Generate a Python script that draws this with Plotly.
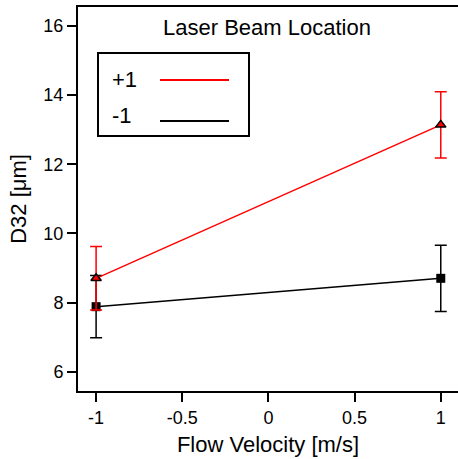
import plotly.graph_objects as go

x_vals = [-1, 1]
series_names = ["+1", "-1"]
series_colors = ["#ff0000", "#000000"]
plus1_y = [8.70, 13.14]
plus1_err = [0.92, 0.96]
minus1_y = [7.88, 8.70]
minus1_err = [0.90, 0.96]
x_ticks = [-1, -0.5, 0, 0.5, 1]
x_ticklabels = ["-1", "-0.5", "0", "0.5", "1"]
y_ticks = [6, 8, 10, 12, 14, 16]

FONT = "Liberation Sans, Arial, sans-serif"

fig = go.Figure()
fig.add_trace(go.Scatter(
    x=x_vals, y=minus1_y, mode="lines+markers", name=series_names[1],
    line=dict(color=series_colors[1], width=1.5),
    marker=dict(symbol="square", size=9, color=series_colors[1]),
    error_y=dict(type="data", array=minus1_err, color=series_colors[1], thickness=1.5, width=6),
    showlegend=False))
fig.add_trace(go.Scatter(
    x=x_vals, y=plus1_y, mode="lines+markers", name=series_names[0],
    line=dict(color=series_colors[0], width=1.5),
    marker=dict(symbol="triangle-up", size=9, color=series_colors[0],
                line=dict(color="black", width=1.5)),
    error_y=dict(type="data", array=plus1_err, color=series_colors[0], thickness=1.5, width=6),
    showlegend=False))

# custom legend (text left, line right) in paper coordinates
# plot area: x 78..458 px (380 wide), y 7..391 px (384 tall)
def px(xp):
    return (xp - 78) / 380.0
def py(yp):
    return (391 - yp) / 384.0

fig.add_shape(type="rect", xref="paper", yref="paper",
              x0=px(98), x1=px(249), y0=py(136), y1=py(53),
              line=dict(color="black", width=2), fillcolor="rgba(0,0,0,0)")
text_y = [80, 115]
line_y = [80, 121]
for i, (nm, col) in enumerate(zip(series_names, series_colors)):
    fig.add_annotation(xref="paper", yref="paper", x=px(110), y=py(text_y[i]), text=nm,
                       showarrow=False, xanchor="left", yanchor="middle",
                       font=dict(family=FONT, size=22, color="black"))
    fig.add_shape(type="line", xref="paper", yref="paper",
                  x0=px(160), x1=px(229), y0=py(line_y[i]), y1=py(line_y[i]),
                  line=dict(color=col, width=2))

fig.add_annotation(xref="paper", yref="paper", x=px(267), y=py(27),
                   text="Laser Beam Location", showarrow=False,
                   xanchor="center", yanchor="middle",
                   font=dict(family=FONT, size=22, color="black"))

fig.update_layout(
    width=458, height=459,
    margin=dict(l=78, r=0, t=7, b=68),
    paper_bgcolor="white", plot_bgcolor="white",
    font=dict(family=FONT, size=18, color="black"),
    xaxis=dict(range=[-1.105, 1.10], tickvals=x_ticks, ticktext=x_ticklabels,
               showgrid=False, zeroline=False, showline=True, linecolor="black",
               linewidth=2, mirror=True, ticks="outside", ticklen=9, tickwidth=1.5,
               tickcolor="black",
               title=dict(text="Flow Velocity [m/s]", font=dict(size=22), standoff=10)),
    yaxis=dict(range=[5.44, 16.55], tickvals=y_ticks,
               showgrid=False, zeroline=False, showline=True, linecolor="black",
               linewidth=2, ticks="outside", ticklen=9, tickwidth=1.5, tickcolor="black",
               title=dict(text="D32 [μm]", font=dict(size=22), standoff=11)),
)

fig.write_html("out.html")
